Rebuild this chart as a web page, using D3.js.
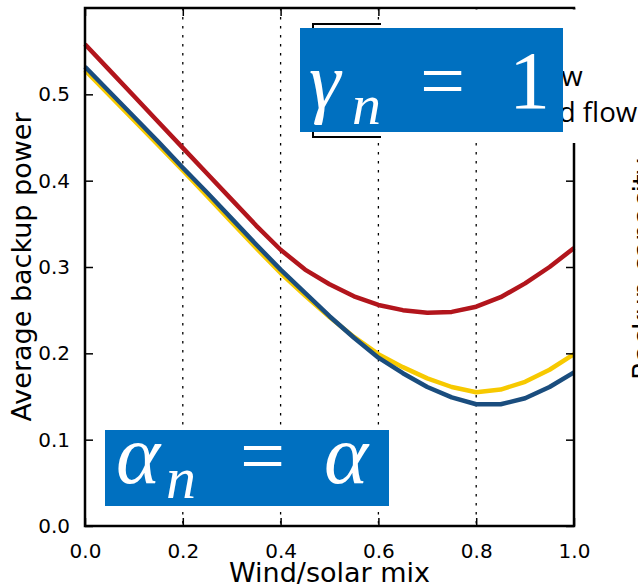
<!DOCTYPE html>
<html>
<head>
<style type="text/css">
body { margin: 0; background: #fff; }
svg { display: block; }
.tick line { stroke: #000; stroke-width: 1.5; }
.domain { display: none; }
.grid line { stroke: #000; stroke-width: 1.3; stroke-dasharray: 2.5,6.5; }
.series { fill: none; stroke-width: 4.5; stroke-linejoin: round; }
.axlabel { font-family: "DejaVu Sans", sans-serif; font-size: 27px; fill: #000; }
.legtext { font-family: "Open Sans", sans-serif; font-size: 27.7px; fill: #000; }
.bluebox { fill: #0070c0; }
.math { font-family: "Liberation Serif", serif; fill: #fff; }
</style>
<script src="https://d3js.org/d3.v7.min.js"></script>
</head>
<body>
<script type="text/javascript">
var width  = 638;
var height = 587;

// wind/solar mix
var mix = [0, 0.05, 0.1, 0.15, 0.2, 0.25, 0.3, 0.35, 0.4, 0.45, 0.5,
           0.55, 0.6, 0.65, 0.7, 0.75, 0.8, 0.85, 0.9, 0.95, 1.0];
// average backup power
var zeroFlow  = [0.558, 0.528, 0.498, 0.468, 0.438, 0.408, 0.378, 0.348, 0.320, 0.297, 0.280,
                 0.266, 0.256, 0.250, 0.247, 0.248, 0.254, 0.265, 0.281, 0.300, 0.322];
var localFlow = [0.528, 0.499, 0.470, 0.441, 0.412, 0.382, 0.352, 0.322, 0.293, 0.267, 0.242,
                 0.219, 0.199, 0.184, 0.171, 0.161, 0.155, 0.158, 0.167, 0.181, 0.199];
var syncFlow  = [0.532, 0.503, 0.474, 0.445, 0.415, 0.386, 0.356, 0.326, 0.297, 0.270, 0.243,
                 0.218, 0.195, 0.177, 0.161, 0.149, 0.141, 0.141, 0.148, 0.161, 0.178];
var seriesNames  = ["Zero flow", "Localized flow", "Synchronized flow"];
var seriesColors = ["#b2151c", "#f7c900", "#1a4d7e"];
var xTicks = [0, 0.2, 0.4, 0.6, 0.8, 1.0];
var yTicks = [0, 0.1, 0.2, 0.3, 0.4, 0.5];
var gridX  = [0.2, 0.4, 0.6, 0.8];

var svg = d3.select("body").append("svg").attr("width", width).attr("height", height);

var x = d3.scaleLinear().domain([0, 1]).range([85, 574]);
var y = d3.scaleLinear().domain([0, 0.6]).range([526, 8]);

// dotted grid
svg.append("g").attr("class", "grid").selectAll("line").data(gridX).enter().append("line")
	.attr("x1", function(d){ return x(d); }).attr("x2", function(d){ return x(d); })
	.attr("y1", y(0.6)).attr("y2", y(0));

// lines
var line = d3.line().x(function(d, i){ return x(mix[i]); }).y(function(d){ return y(d); });
var allSeries = [zeroFlow, localFlow, syncFlow];
allSeries.forEach(function(s, i) {
	svg.append("path").datum(s).attr("class", "series")
		.attr("stroke", seriesColors[i]).attr("d", line);
});

// axes, ticks pointing inward
var xAxis = svg.append("g").attr("transform", "translate(0," + y(0) + ")")
	.call(d3.axisBottom(x).tickValues(xTicks).tickFormat(d3.format(".1f")).tickSizeInner(-8).tickSizeOuter(0).tickPadding(18));
var yAxis = svg.append("g").attr("transform", "translate(" + x(0) + ",0)")
	.call(d3.axisLeft(y).tickValues(yTicks).tickFormat(d3.format(".1f")).tickSizeInner(-8).tickSizeOuter(0).tickPadding(15));
[xAxis, yAxis].forEach(function(a) {
	a.attr("font-family", "DejaVu Sans").attr("font-size", 20);
	a.selectAll("text").attr("fill", "#000");
});
svg.append("g").attr("transform", "translate(0," + y(0.6) + ")")
	.call(d3.axisTop(x).tickValues(xTicks).tickFormat("").tickSizeInner(-8).tickSizeOuter(0));
svg.append("g").attr("transform", "translate(" + x(1) + ",0)")
	.call(d3.axisRight(y).tickValues(yTicks).tickFormat("").tickSizeInner(-8).tickSizeOuter(0));

svg.append("rect").attr("x", x(0)).attr("y", y(0.6))
	.attr("width", x(1) - x(0)).attr("height", y(0) - y(0.6))
	.attr("fill", "none").attr("stroke", "#000").attr("stroke-width", 2.5);

// axis titles
svg.append("text").attr("class", "axlabel").attr("text-anchor", "middle")
	.attr("x", (x(0) + x(1)) / 2).attr("y", 582).text("Wind/solar mix");
svg.append("text").attr("class", "axlabel").attr("text-anchor", "middle")
	.attr("transform", "translate(31," + ((y(0) + y(0.6)) / 2) + ") rotate(-90)")
	.text("Average backup power");
// title of the neighbouring panel, cut by the edge
svg.append("text").attr("class", "axlabel").attr("text-anchor", "start")
	.attr("transform", "translate(652,380) rotate(-90)")
	.text("Backup capacity");

// legend, partly covered
var leg = svg.append("g");
leg.append("rect").attr("x", 313).attr("y", 24).attr("width", 360).attr("height", 113)
	.attr("fill", "#fff").attr("stroke", "#000").attr("stroke-width", 2);
seriesNames.forEach(function(n, i) {
	leg.append("line").attr("x1", 325).attr("x2", 390)
		.attr("y1", 36 + i * 37).attr("y2", 36 + i * 37)
		.attr("stroke", seriesColors[i]).attr("stroke-width", 4.5);
});
leg.append("rect").attr("x", 381).attr("y", 9.5).attr("width", 260).attr("height", 133.5).attr("fill", "#fff");
leg.selectAll("text.legtext").data(seriesNames).enter().append("text")
	.attr("class", "legtext").attr("x", 402)
	.attr("y", function(d, i){ return 50 + i * 36; })
	.text(function(d){ return d; });

// annotation boxes
svg.append("rect").attr("class", "bluebox").attr("x", 300).attr("y", 28).attr("width", 263).attr("height", 104);
var g1 = svg.append("text").attr("class", "math").attr("y", 108);
g1.append("tspan").attr("x", 309).attr("font-size", 80).attr("font-style", "italic").text("\u03b3");
g1.append("tspan").attr("x", 352).attr("dy", 16).attr("font-size", 58).attr("font-style", "italic").text("n");
g1.append("tspan").attr("x", 420).attr("dy", -16).attr("font-size", 80).text("=");
g1.append("tspan").attr("x", 509).attr("font-size", 82).text("1");

svg.append("rect").attr("class", "bluebox").attr("x", 105).attr("y", 430).attr("width", 284).attr("height", 76);
var g2 = svg.append("text").attr("class", "math").attr("y", 483);
g2.append("tspan").attr("x", 116).attr("font-size", 84).attr("font-style", "italic").text("\u03b1");
g2.append("tspan").attr("x", 166).attr("dy", 15).attr("font-size", 60).attr("font-style", "italic").text("n");
g2.append("tspan").attr("x", 240).attr("dy", -15).attr("font-size", 80).text("=");
g2.append("tspan").attr("x", 324).attr("font-size", 84).attr("font-style", "italic").text("\u03b1");
</script>
</body>
</html>
